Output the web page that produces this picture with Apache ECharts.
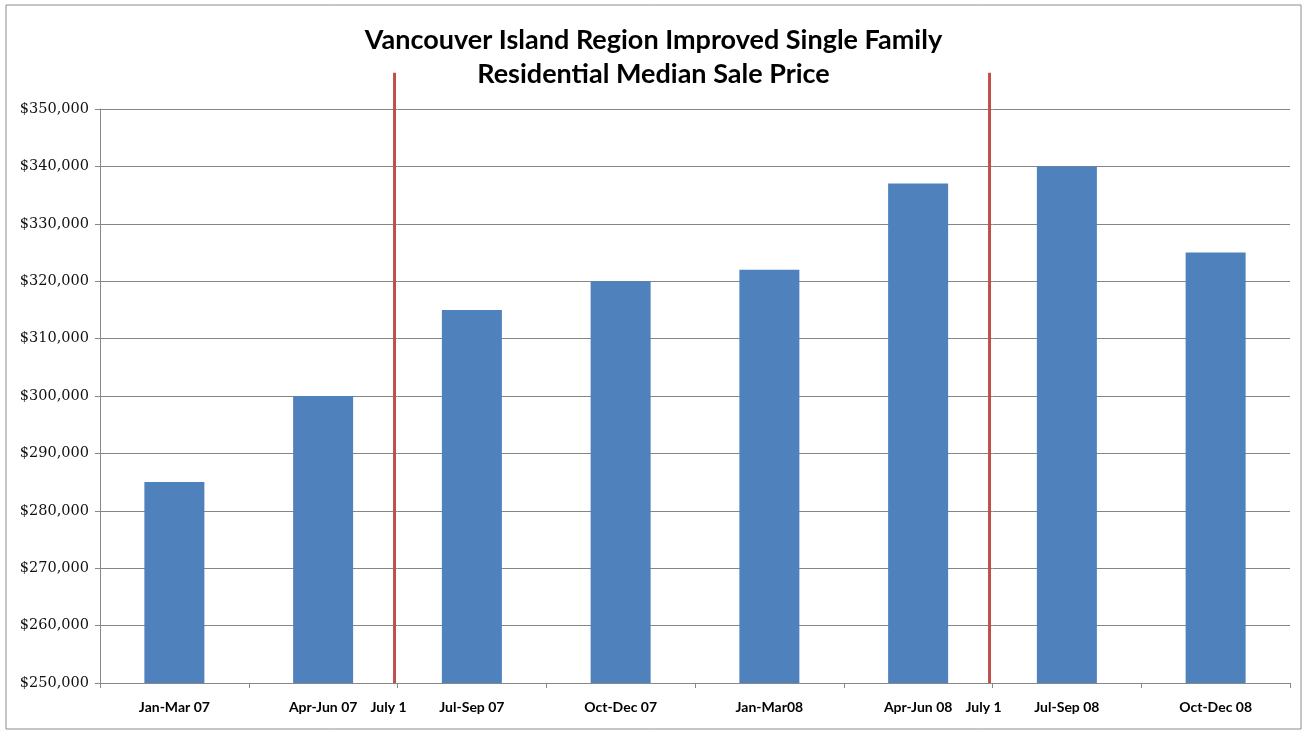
<!DOCTYPE html>
<html>
<head>
<meta charset="utf-8">
<script src="https://cdn.jsdelivr.net/npm/echarts@6/dist/echarts.min.js"></script>
<style>html,body{margin:0;padding:0;background:#fff}#main{width:1307px;height:732px}</style>
</head>
<body>
<div id="main"></div>
<script>
const categories = ['Jan-Mar 07','Apr-Jun 07','Jul-Sep 07','Oct-Dec 07','Jan-Mar08','Apr-Jun 08','Jul-Sep 08','Oct-Dec 08'];
const medianPrice = [285000, 300000, 315000, 320000, 322000, 337000, 340000, 325000];
const julyLinePositions = [1.98, 5.98];
const julyLabel = 'July 1';
const yMin = 250000, yMax = 350000, yStep = 10000;
const julyLineTop = 356300;

const chart = echarts.init(document.getElementById('main'));
chart.setOption({
  animation: false,
  backgroundColor: '#fff',
  title: {
    text: 'Vancouver Island Region Improved Single Family\nResidential Median Sale Price',
    left: 'center', top: 18,
    textStyle: { fontFamily: 'Lato', fontWeight: 'bold', fontSize: 27, lineHeight: 34, color: '#000' }
  },
  graphic: [{
    type: 'rect', shape: { x: 6, y: 5, width: 1295, height: 724 },
    style: { fill: 'none', stroke: '#8c8c8c', lineWidth: 1 }, silent: true
  }],
  grid: { left: 100, right: 17, top: 109, bottom: 49, containLabel: false },
  xAxis: [{
    type: 'category', data: categories,
    axisLine: { lineStyle: { color: '#888', width: 1 } },
    axisTick: { show: true, length: 5, lineStyle: { color: '#888' } },
    axisLabel: { fontFamily: 'Lato', fontWeight: 'bold', fontSize: 14, color: '#000', margin: 17 }
  }, {
    type: 'value', min: 0, max: 8, show: false
  }],
  yAxis: {
    type: 'value', min: yMin, max: yMax, interval: yStep,
    axisLine: { show: true, lineStyle: { color: '#888' } },
    axisTick: { show: true, length: 5, lineStyle: { color: '#888' } },
    splitLine: { lineStyle: { color: '#858585', width: 1 } },
    axisLabel: {
      fontFamily: 'DejaVu Serif', fontSize: 14.5, color: '#111', margin: 11,
      formatter: v => '$' + v.toLocaleString('en-US')
    }
  },
  series: [{
    type: 'bar', data: medianPrice, barWidth: 60,
    itemStyle: { color: '#4F81BD' }
  }, {
    type: 'custom', xAxisIndex: 1, yAxisIndex: 0, clip: false,
    data: julyLinePositions.map(p => [p]),
    renderItem: function (params, api) {
      const x = api.value(0);
      const top = api.coord([x, julyLineTop]);
      const bot = api.coord([x, yMin]);
      return {
        type: 'group',
        children: [{
          type: 'line',
          shape: { x1: top[0], y1: top[1], x2: bot[0], y2: bot[1] },
          style: { stroke: '#C0504D', lineWidth: 3 }
        }, {
          type: 'text',
          style: {
            text: julyLabel, x: bot[0] - 6, y: bot[1] + 24,
            textAlign: 'center', textVerticalAlign: 'middle',
            font: 'bold 14px Lato', fill: '#000'
          }
        }]
      };
    }
  }]
});
</script>
</body>
</html>
